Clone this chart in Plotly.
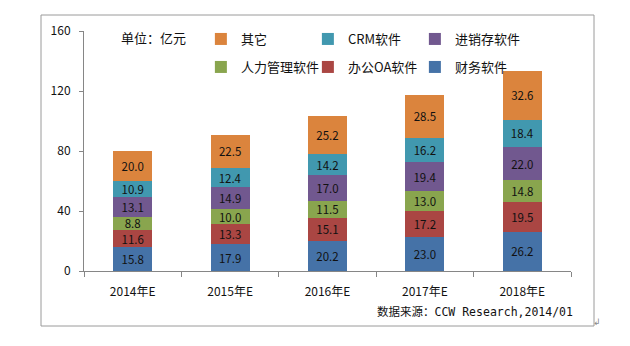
import plotly.graph_objects as go

categories = ["2014年E", "2015年E", "2016年E", "2017年E", "2018年E"]
finance = [15.8, 17.9, 20.2, 23.0, 26.2]
office_oa = [11.6, 13.3, 15.1, 17.2, 19.5]
hr = [8.8, 10.0, 11.5, 13.0, 14.8]
inventory = [13.1, 14.9, 17.0, 19.4, 22.0]
crm = [10.9, 12.4, 14.2, 16.2, 18.4]
other = [20.0, 22.5, 25.2, 28.5, 32.6]
y_ticks = [0, 40, 80, 120, 160]

series = [
    ("财务软件", finance, "#4572A7", "legend2"),
    ("办公OA软件", office_oa, "#AA4643", "legend2"),
    ("人力管理软件", hr, "#89A54E", "legend2"),
    ("进销存软件", inventory, "#71588F", "legend"),
    ("CRM软件", crm, "#4198AF", "legend"),
    ("其它", other, "#DB843D", "legend"),
]

FONT = "Noto Sans CJK SC, sans-serif"
fig = go.Figure()
for name, vals, color, lg in series:
    fig.add_trace(go.Bar(
        x=categories, y=vals, name=name, marker=dict(color=color, line=dict(width=0)),
        texttemplate="%{y:.1f}", textposition="inside", insidetextanchor="middle",
        textangle=0, constraintext="none",
        textfont=dict(family=FONT, size=11.5, color="#111111"),
        legend=lg,
    ))

legend_common = dict(orientation="h", traceorder="reversed", xanchor="left", yanchor="middle",
                     entrywidth=62, entrywidthmode="pixels", bgcolor="rgba(0,0,0,0)",
                     font=dict(family=FONT, size=13, color="#111111"))

fig.update_layout(
    width=630, height=346,
    margin=dict(l=84, r=59, t=31, b=75),
    paper_bgcolor="white", plot_bgcolor="white",
    barmode="stack", bargap=0.6,
    font=dict(family=FONT, size=12, color="#111111"),
    showlegend=True,
    legend=dict(x=0.24, y=(271 - 39) / 240, **legend_common),
    legend2=dict(x=0.24, y=(271 - 67) / 240, **legend_common),
    xaxis=dict(showline=True, linecolor="#868686", linewidth=1, ticks="outside",
               tickson="boundaries", ticklen=5, tickcolor="#868686",
               tickfont=dict(family=FONT, size=12, color="#111111"), showgrid=False,
               ticklabelstandoff=10),
    yaxis=dict(range=[0, 160], tickvals=y_ticks, showline=True, linecolor="#868686",
               linewidth=1, ticks="outside", ticklen=4, tickcolor="#868686",
               showgrid=False, zeroline=False,
               tickfont=dict(family=FONT, size=12, color="#111111"), ticklabelstandoff=6),
)

# outer frame
fig.add_shape(type="rect", xref="paper", yref="paper",
              x0=(41 - 84) / 487, x1=(594 - 84) / 487,
              y0=(271 - 326) / 240, y1=(271 - 15) / 240,
              line=dict(color="#9A9A9A", width=1), fillcolor="rgba(0,0,0,0)", layer="below")

fig.add_annotation(text="单位：亿元", xref="paper", yref="paper",
                   x=(119 - 84) / 487, y=(271 - 37) / 240, xanchor="left", yanchor="middle",
                   showarrow=False, font=dict(family=FONT, size=13, color="#111111"))
fig.add_annotation(text="数据来源：CCW Research,2014/01", xref="paper", yref="paper",
                   x=(575 - 84) / 487, y=(271 - 312) / 240, xanchor="right", yanchor="middle",
                   showarrow=False,
                   font=dict(family="DejaVu Sans Mono, Noto Sans CJK SC, monospace", size=11.5, color="#111111"))
fig.add_annotation(text="↲", xref="paper", yref="paper",
                   x=(597 - 84) / 487, y=(271 - 322) / 240, xanchor="center", yanchor="middle",
                   showarrow=False, font=dict(family="DejaVu Sans", size=9, color="#888888"))

fig.write_html("out.html")
